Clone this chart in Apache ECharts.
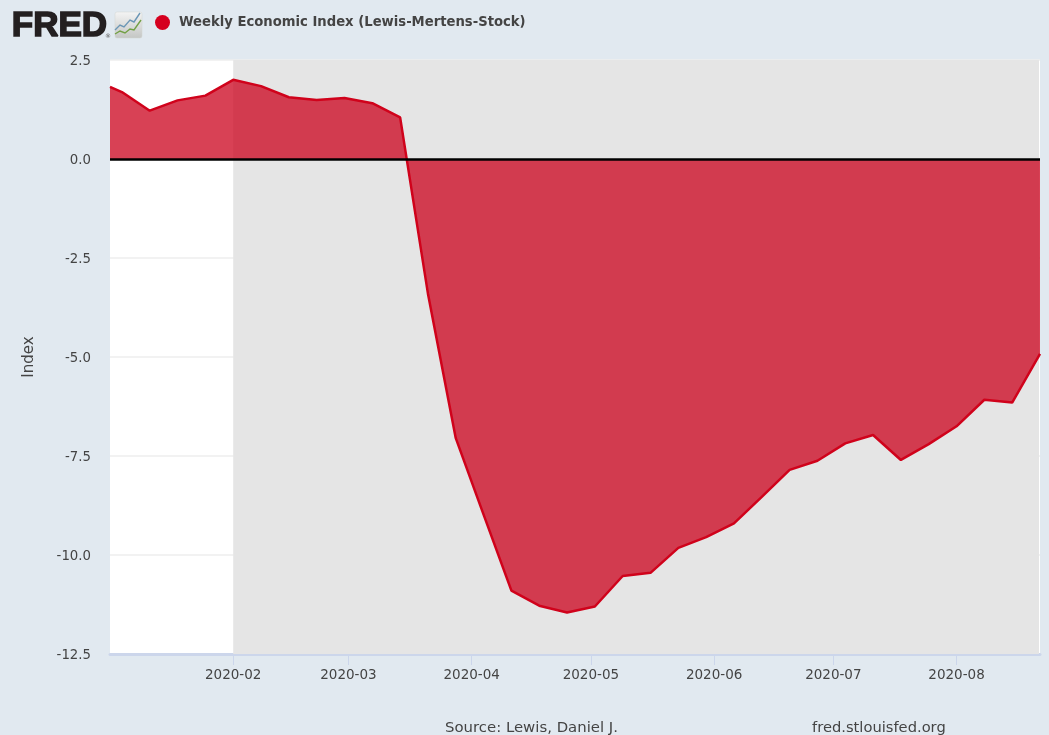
<!DOCTYPE html>
<html><head><meta charset="utf-8">
<style>html,body{margin:0;padding:0;background:#e1e9f0;overflow:hidden}#c{width:1049px;height:735px}</style>
<script src="https://cdn.jsdelivr.net/npm/echarts@6/dist/echarts.min.js"></script>
</head><body><div id="c"></div>
<script>
const seriesName = 'Weekly Economic Index (Lewis-Mertens-Stock)';
const dates = ['2020-01-01','2020-01-04','2020-01-11','2020-01-18','2020-01-25','2020-02-01','2020-02-08','2020-02-15','2020-02-22','2020-02-29','2020-03-07','2020-03-14','2020-03-21','2020-03-28','2020-04-04','2020-04-11','2020-04-18','2020-04-25','2020-05-02','2020-05-09','2020-05-16','2020-05-23','2020-05-30','2020-06-06','2020-06-13','2020-06-20','2020-06-27','2020-07-04','2020-07-11','2020-07-18','2020-07-25','2020-08-01','2020-08-08','2020-08-15','2020-08-22'];
const values = [1.82,1.69,1.22,1.48,1.6,2.0,1.84,1.56,1.49,1.54,1.41,1.05,-3.4,-7.05,-8.98,-10.9,-11.28,-11.45,-11.3,-10.53,-10.45,-9.82,-9.55,-9.2,-8.53,-7.85,-7.62,-7.18,-6.97,-7.6,-7.2,-6.75,-6.08,-6.15,-4.92];
const tickDates = ['2020-02-01','2020-03-01','2020-04-01','2020-05-01','2020-06-01','2020-07-01','2020-08-01'];
const recession = ['2020-02-01','2020-08-21 18:00'];
const axisRange = ['2020-01-01','2020-08-22'];
const ts = s => new Date(s.replace(' ','T') + (s.length>10 ? ':00Z' : 'T00:00:00Z')).getTime();
const red = '#d0021b', fillRed = '#cb011c', text = '#444444', font = '"DejaVu Sans"';
const chart = echarts.init(document.getElementById('c'), null, {renderer:'canvas'});
chart.setOption({
  animation:false,
  backgroundColor:'#e1e9f0',
  textStyle:{fontFamily:font},
  grid:{left:110, right:9, top:60, bottom:81, show:true, backgroundColor:'#ffffff', borderWidth:0},
  legend:{left:155, top:15, padding:0, icon:'circle', itemWidth:15, itemHeight:15, itemGap:0, data:[{name:seriesName, itemStyle:{color:'#d5001f'}}],
    textStyle:{fontFamily:font, fontWeight:'bold', fontSize:13.2, color:'#444444', padding:[2,0,0,4]}},
  xAxis:{type:'value', scale:true, min:ts(axisRange[0]), max:ts(axisRange[1]),
    axisLine:{onZero:false, lineStyle:{color:'#ccd6eb', width:3}},
    axisTick:{show:true, length:11, customValues:tickDates.map(ts), lineStyle:{color:'#ccd6eb', width:1}},
    axisLabel:{customValues:tickDates.map(ts), fontFamily:font, fontSize:13.5, color:text, margin:14, hideOverlap:false, formatter:v=>{const d=new Date(v);return d.getUTCFullYear()+'-'+String(d.getUTCMonth()+1).padStart(2,'0');}},
    splitLine:{show:false}},
  yAxis:{type:'value', min:-12.5, max:2.5, interval:2.5, name:'Index', nameLocation:'middle', nameGap:73, nameRotate:90,
    nameTextStyle:{fontFamily:font, fontSize:15, color:text},
    axisLine:{show:false}, axisTick:{show:false},
    axisLabel:{fontFamily:font, fontSize:13.3, color:text, margin:19, verticalAlign:'top', lineHeight:3, formatter:v=>v.toFixed(1)},
    splitLine:{show:true, lineStyle:{color:'#eeeeee', width:1.5}}},
  series:[
    {name:'band', type:'line', data:[], z:1, silent:true, markArea:{silent:true, itemStyle:{color:'#e5e5e5'}, data:[[{xAxis:ts(recession[0])},{xAxis:ts(recession[1])}]]}},
    {name:seriesName, type:'line', z:3, showSymbol:false, symbol:'none', clip:true,
     data:dates.map((d,i)=>[ts(d),values[i]]),
     lineStyle:{color:red, width:2.5}, itemStyle:{color:red},
     areaStyle:{color:fillRed, opacity:0.75, origin:0},
     markLine:{silent:true, symbol:'none', label:{show:false}, lineStyle:{color:'#000000', width:2.5, type:'solid'}, data:[{yAxis:0}], z:5}}
  ],
  graphic:[
    {type:'text', left:11, top:8, z:10, style:{text:'FRED', font:'bold 35px "Liberation Sans"', fill:'#231f20', stroke:'#231f20', lineWidth:1.6}},
    {type:'text', left:105, top:33, z:10, style:{text:'®', font:'6px "DejaVu Sans"', fill:'#555'}},
    {type:'rect', z:10, shape:{x:115,y:12,width:27,height:26,r:2}, style:{fill:new echarts.graphic.LinearGradient(0,0,0,1,[{offset:0,color:'#f4f4f4'},{offset:1,color:'#c4c6c4'}]), stroke:'#d0d4d0', lineWidth:0.5}},
    {type:'polyline', z:11, shape:{points:[[115,30],[120,25],[124,27],[130,20],[134,22],[140,13]]}, style:{stroke:'#6b96b5', fill:null, lineWidth:1.4}},
    {type:'polyline', z:11, shape:{points:[[115,34],[120,31],[125,33],[130,29],[134,30],[141,20]]}, style:{stroke:'#72a045', fill:null, lineWidth:1.4}},
    {type:'text', left:445, top:721, z:10, style:{text:'Source: Lewis, Daniel J.', font:'14.9px "DejaVu Sans"', fill:text}},
    {type:'text', left:812, top:721, z:10, style:{text:'fred.stlouisfed.org', font:'14.7px "DejaVu Sans"', fill:text}}
  ]
});
</script></body></html>
